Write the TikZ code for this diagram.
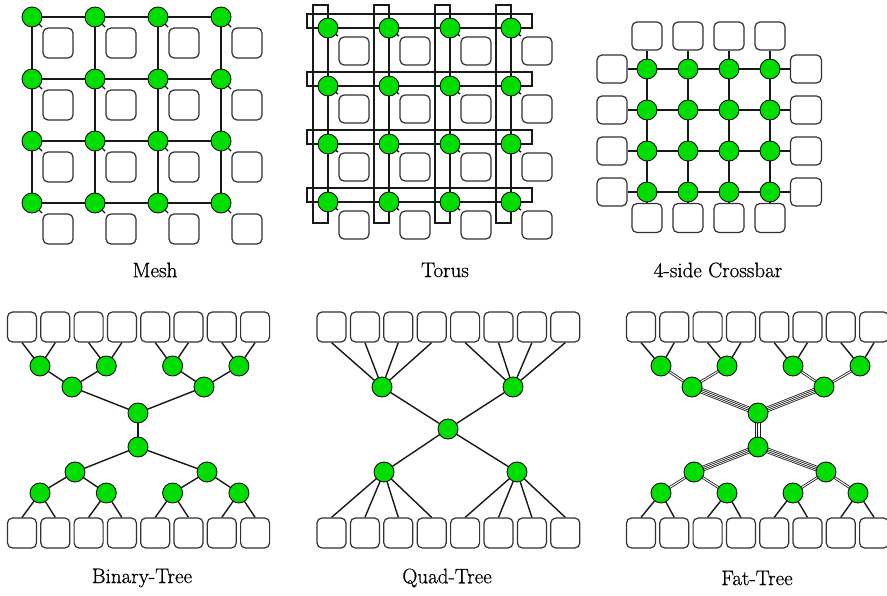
\documentclass[tikz,border=0pt]{standalone}
\usepackage{fontspec}
\newfontfamily\lblfont{Latin Modern Roman}[FakeBold=0.7]
\usetikzlibrary{calc}
\pgfdeclarelayer{bg}
\pgfsetlayers{bg,main}
\definecolor{nodegreen}{RGB}{0,221,0}
\definecolor{boxline}{RGB}{50,50,50}
\definecolor{edgecol}{RGB}{25,25,25}
\newcommand\fourlines[2]{%
  \draw[edgecol,line width=5.6pt] (#1.center) -- (#2.center);
  \draw[white,line width=4.0pt] (#1.center) -- (#2.center);
  \draw[edgecol,line width=2.4pt] (#1.center) -- (#2.center);
  \draw[white,line width=0.8pt] (#1.center) -- (#2.center);}
\begin{document}
\begin{tikzpicture}[x=1pt,y=-1pt,
  sw/.style={circle,fill=nodegreen,draw=black,line width=0.8pt,minimum size=20pt,inner sep=0pt},
  pe/.style={rectangle,rounded corners=5pt,draw=boxline,line width=1.2pt,fill=white,minimum width=29pt,minimum height=29pt,inner sep=0pt},
  ln/.style={draw=edgecol,line width=1.4pt},
  dbl/.style={draw=edgecol,line width=0.8pt,double=white,double distance=1.0pt},
  lbl/.style={font=\lblfont\fontsize{21}{24}\selectfont,inner sep=0pt}]

\useasboundingbox (0,0) rectangle (887,596);
\begin{pgfonlayer}{bg}
\fill[white] (0,0) rectangle (887,596);
\end{pgfonlayer}

% ---------------- Mesh ----------------
\foreach \i in {0,...,3} \foreach \j in {0,...,3} {
  \node[sw] (m\i\j) at ({32+63*\i},{17+62*\j}) {};
  \node[pe,minimum width=30pt,minimum height=30pt] (mb\i\j) at ({58+63*\i},{43+62*\j}) {};
}
\begin{pgfonlayer}{bg}
\foreach \i in {0,...,3} \foreach \j in {0,...,3} {
  \draw[ln,shorten >=0.5pt] (m\i\j.center) -- (mb\i\j.north west);
}
\foreach \i/\ii in {0/1,1/2,2/3} \foreach \j in {0,...,3} {
  \draw[ln] (m\i\j.center) -- (m\ii\j.center);
  \draw[ln] (m\j\i.center) -- (m\j\ii.center);
}
\end{pgfonlayer}
\node[lbl] (lmesh) at (155,270) {Mesh};

% ---------------- Torus ----------------
\foreach \i in {0,...,3} \foreach \j in {0,...,3} {
  \node[sw] (t\i\j) at ({328+61*\i},{28+58*\j}) {};
  \node[pe,minimum width=30pt,minimum height=28pt] (tb\i\j) at ({354+61*\i},{51+58*\j}) {};
}
\begin{pgfonlayer}{bg}
\foreach \i in {0,...,3} \foreach \j in {0,...,3} {
  \draw[ln,shorten >=0.5pt] (t\i\j.center) -- (tb\i\j.north west);
}
\foreach \i/\ii in {0/1,1/2,2/3} \foreach \j in {0,...,3} {
  \draw[ln] (t\i\j.center) -- (t\ii\j.center);
  \draw[ln] (t\j\i.center) -- (t\j\ii.center);
}
\foreach \j in {0,...,3} {
  \draw[ln] (t0\j.center) -- ++(-21,0) -- ++(0,-14) -- ++(225,0) -- ++(0,14) -- (t3\j.center);
}
\foreach \i in {0,...,3} {
  \draw[ln] (t\i0.center) -- ++(0,-23) -- ++(-15,0) -- ++(0,218) -- ++(15,0) -- (t\i3.center);
}
\end{pgfonlayer}
\node[lbl] (ltorus) at (445,270) {Torus};

% ---------------- 4-side Crossbar ----------------
\foreach \i in {0,...,3} \foreach \j in {0,...,3} {
  \node[sw] (c\i\j) at ({647+41*\i},{69+41*\j}) {};
}
\foreach \k in {0,...,3} {
  \node[pe,minimum width=30pt,minimum height=28pt] (ct\k) at ({647+41*\k},36) {};
  \node[pe,minimum width=30pt,minimum height=29pt] (cb\k) at ({647+41*\k},218) {};
  \node[pe,minimum width=30pt,minimum height=28pt] (cl\k) at (612,{69+41*\k}) {};
  \node[pe,minimum width=31pt,minimum height=28pt] (cr\k) at (806,{69+41*\k}) {};
}
\begin{pgfonlayer}{bg}
\foreach \i/\ii in {0/1,1/2,2/3} \foreach \j in {0,...,3} {
  \draw[ln] (c\i\j.center) -- (c\ii\j.center);
  \draw[ln] (c\j\i.center) -- (c\j\ii.center);
}
\foreach \k in {0,...,3} {
  \draw[ln] (c\k0.center) -- (ct\k.south);
  \draw[ln] (c\k3.center) -- (cb\k.north);
  \draw[ln] (c0\k.center) -- (cl\k.east);
  \draw[ln] (c3\k.center) -- (cr\k.west);
}
\end{pgfonlayer}
\node[lbl] (lcross) at (718,270) {4-side Crossbar};

% ---------------- Binary tree ----------------
\foreach \k in {0,...,7} {
  \node[pe,minimum height=30pt] (bt\k) at ({22+33.3*\k},327) {};
  \node[pe,minimum height=30pt] (bu\k) at ({22+33.3*\k},533) {};
}
\foreach \k in {0,...,3} {
  \node[sw] (ba\k) at ({40+66.3*\k},366) {};
  \node[sw] (bd\k) at ({40+66.3*\k},493) {};
}
\node[sw] (bb0) at (72,387) {};
\node[sw] (bb1) at (204,387) {};
\node[sw] (bc0) at (75,472) {};
\node[sw] (bc1) at (207,472) {};
\node[sw] (br0) at (138,413) {};
\node[sw] (br1) at (138,447) {};
\begin{pgfonlayer}{bg}
\foreach \k/\p in {0/0,1/0,2/1,3/1,4/2,5/2,6/3,7/3} {
  \draw[ln] (bt\k.south) -- (ba\p.center);
  \draw[ln] (bu\k.north) -- (bd\p.center);
}
\foreach \k/\p in {0/0,1/0,2/1,3/1} {
  \draw[ln] (ba\k.center) -- (bb\p.center);
  \draw[ln] (bd\k.center) -- (bc\p.center);
}
\foreach \p in {0,1} {
  \draw[ln] (bb\p.center) -- (br0.center);
  \draw[ln] (bc\p.center) -- (br1.center);
}
\draw[ln] (br0.center) -- (br1.center);
\end{pgfonlayer}
\node[lbl] (lbin) at (142,578) {Binary-Tree};

% ---------------- Quad tree ----------------
\foreach \k in {0,...,7} {
  \node[pe,minimum height=30pt] (qt\k) at ({331.5+33.4*\k},327) {};
  \node[pe,minimum height=30pt] (qu\k) at ({331.5+33.4*\k},533) {};
}
\node[sw] (qa0) at (382,387) {};
\node[sw] (qa1) at (513,387) {};
\node[sw] (qc) at (448,429) {};
\node[sw] (qb0) at (384,472) {};
\node[sw] (qb1) at (517,472) {};
\begin{pgfonlayer}{bg}
\foreach \k/\p in {0/0,1/0,2/0,3/0,4/1,5/1,6/1,7/1} {
  \draw[ln] (qt\k.south) -- (qa\p.center);
  \draw[ln] (qu\k.north) -- (qb\p.center);
}
\foreach \p in {0,1} {
  \draw[ln] (qa\p.center) -- (qc.center);
  \draw[ln] (qb\p.center) -- (qc.center);
}
\end{pgfonlayer}
\node[lbl] (lquad) at (447,578) {Quad-Tree};

% ---------------- Fat tree ----------------
\foreach \k in {0,...,7} {
  \node[pe,minimum height=30pt] (ft\k) at ({641+33.3*\k},327) {};
  \node[pe,minimum height=30pt] (fu\k) at ({641+33.3*\k},533) {};
}
\node[sw] (fa0) at (661,366) {};
\node[sw] (fa1) at (727,366) {};
\node[sw] (fa2) at (793,366) {};
\node[sw] (fa3) at (860,366) {};
\node[sw] (fd0) at (661,493) {};
\node[sw] (fd1) at (727,493) {};
\node[sw] (fd2) at (793,493) {};
\node[sw] (fd3) at (858,493) {};
\node[sw] (fb0) at (692,387) {};
\node[sw] (fb1) at (824,387) {};
\node[sw] (fc0) at (694,472) {};
\node[sw] (fc1) at (826,472) {};
\node[sw] (fr0) at (758,413) {};
\node[sw] (fr1) at (758,447) {};
\begin{pgfonlayer}{bg}
\foreach \k/\p in {0/0,1/0,2/1,3/1,4/2,5/2,6/3,7/3} {
  \draw[ln] (ft\k.south) -- (fa\p.center);
  \draw[ln] (fu\k.north) -- (fd\p.center);
}
\foreach \k/\p in {0/0,1/0,2/1,3/1} {
  \draw[dbl] (fa\k.center) -- (fb\p.center);
  \draw[dbl] (fd\k.center) -- (fc\p.center);
}
\fourlines{fb0}{fr0}
\fourlines{fb1}{fr0}
\fourlines{fc0}{fr1}
\fourlines{fc1}{fr1}
\fourlines{fr0}{fr1}
\end{pgfonlayer}
\node[lbl] (lfat) at (757,578) {Fat-Tree};
\end{tikzpicture}
\end{document}
